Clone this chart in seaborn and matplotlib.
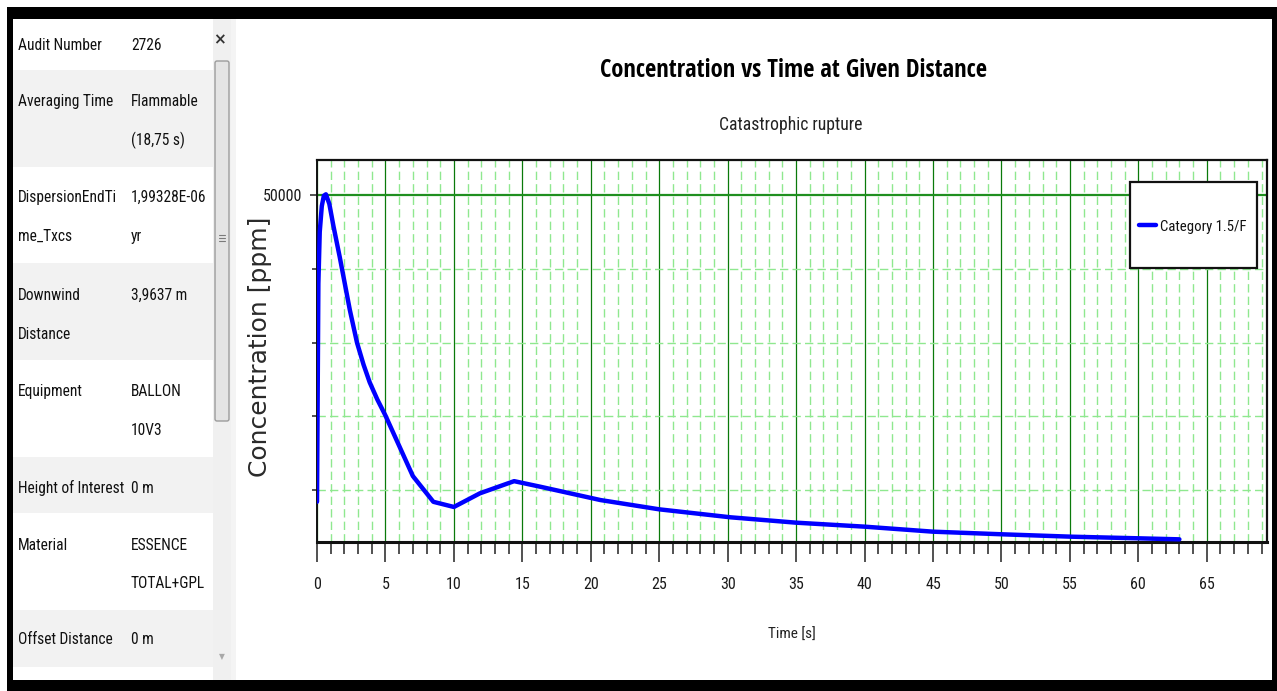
import matplotlib
matplotlib.use("Agg")
import matplotlib.pyplot as plt
from matplotlib import font_manager
from matplotlib.font_manager import FontProperties
from matplotlib.patches import Rectangle, FancyBboxPatch
from matplotlib.lines import Line2D
from matplotlib.ticker import FixedLocator, MultipleLocator, NullFormatter
import seaborn as sns
import pandas as pd

# ---- concentration time series (Category 1.5/F) ----
time_s = [0.0, 0.1, 0.2, 0.35, 0.5, 0.65, 0.9, 1.2, 1.66, 2.4, 2.92, 3.4,
          3.85, 4.4, 5.0, 6.0, 7.0, 8.5, 10.0, 11.9, 14.4, 16.3, 20.7, 25.0,
          30.2, 35.0, 40.0, 45.0, 50.1, 55.1, 60.0, 63.0]
conc_ppm = [8400, 38000, 45000, 48500, 49900, 50100, 48800, 45800, 41600,
            34400, 30000, 27000, 24600, 22300, 20100, 16000, 11900, 8400,
            7700, 9550, 11200, 10450, 8640, 7380, 6300, 5570, 5030, 4350,
            3990, 3670, 3450, 3310]
series_name = "Category 1.5/F"

x_major_ticks = list(range(0, 70, 5))
y_major_ticks = [50000]
y_minor_ticks = [10000, 20000, 30000, 40000]

title = "Concentration vs Time at Given Distance"
subtitle = "Catastrophic rupture"
x_label = "Time [s]"
y_label = "Concentration [ppm]"

# ---- property panel ----
param_names = ["Audit Number", "Averaging Time", "DispersionEndTi\nme_Txcs",
               "Downwind\nDistance", "Equipment", "Height of Interest",
               "Material", "Offset Distance"]
param_values = ["2726", "Flammable\n(18,75 s)", "1,99328E-06\nyr", "3,9637 m",
                "BALLON\n10V3", "0 m", "ESSENCE\nTOTAL+GPL", "0 m"]


def weight_num(w):
    if isinstance(w, (int, float)):
        return int(w)
    return font_manager.weight_dict.get(str(w).lower(), 400)


def condensed_font(target_w):
    """Narrow sans face closest to the wanted weight, else a plain sans."""
    prefs = ["Open Sans Condensed", "Roboto Condensed", "Liberation Sans Narrow",
             "DejaVu Sans", "Noto Sans"]
    best = None
    for f in font_manager.fontManager.ttflist:
        nm = f.name.lower()
        st = str(f.stretch).lower()
        narrow = ("condensed" in nm or "narrow" in nm or
                  "condensed" in st or "narrow" in st)
        if not narrow or f.style != "normal" or "mono" in nm or "serif" in nm:
            continue
        pr = prefs.index(f.name) if f.name in prefs else len(prefs)
        key = (abs(weight_num(f.weight) - target_w), pr)
        if best is None or key < best[0]:
            best = (key, f.fname)
    if best is not None and best[0][0] <= 150:
        return lambda size: FontProperties(fname=best[1], size=size)
    wt = "bold" if target_w >= 600 else "normal"
    return lambda size: FontProperties(family="Liberation Sans", weight=wt, size=size)


regular = condensed_font(400)
bold = condensed_font(700)

sns.set_style("white")
plt.rcParams["font.family"] = ["DejaVu Sans"]

W, H = 1277, 691
fig = plt.figure(figsize=(W / 100, H / 100), dpi=100, facecolor="white")
renderer = fig.canvas.get_renderer()


def fit(text, face, width_px, boost=1.0):
    probe = fig.text(0, 0, text, fontproperties=face(10))
    w = probe.get_window_extent(renderer).width
    probe.remove()
    return face(10 * width_px / w * boost)


fp_title = fit(title, bold, 387)
fp_sub = fit(subtitle, regular, 142)
fp_table = fit("Height of Interest", regular, 106)
fp_tick = fit("50000", regular, 34, 1.15)
fp_xlabel = fit(x_label, regular, 46, 1.04)
fp_legend = fit(series_name, regular, 86)

# full-figure canvas in pixel units for the window chrome and the panel
bg = fig.add_axes([0, 0, 1, 1], zorder=0)
bg.set_xlim(0, W)
bg.set_ylim(H, 0)
bg.axis("off")

# property table rows
row_edges = [19, 70, 167, 263, 360, 457, 513, 610, 667, 680]
row_text_y = [45, 101, 197, 295, 391, 488, 545, 640]
for i in range(len(row_edges) - 1):
    face = "white" if i % 2 == 0 else "#f2f2f2"
    bg.add_patch(Rectangle((13, row_edges[i]), 200, row_edges[i + 1] - row_edges[i],
                           facecolor=face, edgecolor="none", zorder=1))
for name, value, yc in zip(param_names, param_values, row_text_y):
    for k, line in enumerate(name.split("\n")):
        bg.text(18, yc + 39 * k, line, fontproperties=fp_table, color="#111111",
                ha="left", va="center", zorder=3)
    for k, line in enumerate(value.split("\n")):
        bg.text(131, yc + 39 * k, line, fontproperties=fp_table, color="#111111",
                ha="left", va="center", zorder=3)

# scrollbar
bg.add_patch(Rectangle((213, 19), 18, 661, facecolor="#f0f0f0",
                       edgecolor="none", zorder=1))
bg.add_patch(Rectangle((231, 19), 5, 661, facecolor="#f4f4f4",
                       edgecolor="none", zorder=1))
bg.add_patch(FancyBboxPatch((215, 61), 14, 360,
                            boxstyle="round,pad=0,rounding_size=2",
                            facecolor="#e4e4e4", edgecolor="#9c9c9c",
                            linewidth=1.0, zorder=2))
for gy in (235, 238, 241):
    bg.add_line(Line2D([219, 225], [gy, gy], color="#7a7a7a", lw=0.8, zorder=3))
bg.text(219.5, 40, "\u00d7", fontsize=11, fontweight="bold", color="#333333",
        ha="center", va="center", family="DejaVu Sans", zorder=3)
bg.text(222, 657, "\u25bc", fontsize=5.5, color="#a8a8a8",
        ha="center", va="center", family="DejaVu Sans", zorder=3)

# black window frame
for (x0, y0, w, h) in [(7, 7, 1270, 12), (7, 7, 6, 684),
                       (7, 680, 1270, 11), (1272, 7, 5, 684)]:
    bg.add_patch(Rectangle((x0, y0), w, h, facecolor="black",
                           edgecolor="none", zorder=5))

# chart titles
bg.text(793, 70, title, fontproperties=fp_title, color="black",
        ha="center", va="center", zorder=3)
bg.text(791, 125, subtitle, fontproperties=fp_sub, color="#222222",
        ha="center", va="center", zorder=3)

# ---- chart ----
ax_l, ax_r, ax_t, ax_b = 317, 1267, 160, 541.7
ax = fig.add_axes([ax_l / W, (H - ax_b) / H, (ax_r - ax_l) / W, (ax_b - ax_t) / H],
                  zorder=2)
ax.set_facecolor("white")

df = pd.DataFrame({"time": time_s, "conc": conc_ppm})
sns.lineplot(data=df, x="time", y="conc", ax=ax, color="#0000ff", lw=3.2,
             label=series_name, zorder=4, legend=False)

ax.set_xlim(0, 69.4)
ax.set_ylim(2990, 54750)

ax.xaxis.set_major_locator(FixedLocator(x_major_ticks))
ax.xaxis.set_minor_locator(MultipleLocator(1))
ax.xaxis.set_minor_formatter(NullFormatter())
ax.yaxis.set_major_locator(FixedLocator(y_major_ticks))
ax.yaxis.set_minor_locator(FixedLocator(y_minor_ticks))
ax.yaxis.set_minor_formatter(NullFormatter())

ax.grid(which="minor", color="#8fe88f", lw=1.0, ls=(0, (6, 3)), zorder=0)
ax.grid(which="major", axis="x", color="#0a7a0a", lw=0.9, ls="-", zorder=1)
ax.grid(which="major", axis="y", color="#1f8f1f", lw=1.6, ls="-", zorder=1)
ax.set_axisbelow(True)

ax.tick_params(axis="x", which="major", length=14.5, width=1.1, color="#222222",
               direction="out", pad=11, bottom=True)
ax.tick_params(axis="x", which="minor", length=8.5, width=1.1, color="#222222",
               direction="out", bottom=True)
ax.tick_params(axis="y", which="major", length=5, width=1.1, color="#222222",
               direction="out", pad=5.5, left=True)
ax.tick_params(axis="y", which="minor", length=3.6, width=1.1, color="#222222",
               direction="out", left=True)
for lbl in ax.get_xticklabels() + ax.get_yticklabels():
    lbl.set_fontproperties(fp_tick)
    lbl.set_color("#1a1a1a")

for side, lw in (("left", 1.4), ("top", 1.6), ("right", 1.6), ("bottom", 2.2)):
    ax.spines[side].set_visible(True)
    ax.spines[side].set_color("#111111")
    ax.spines[side].set_linewidth(lw)

ax.set_xlabel(x_label, fontproperties=fp_xlabel, color="#222222")
ax.xaxis.set_label_coords(0.5, (ax_b - 635) / (ax_b - ax_t))
ax.xaxis.label.set_va("center")
ax.set_ylabel(y_label, fontsize=18, color="#2a2a2a", family="DejaVu Sans")
ax.yaxis.set_label_coords((260 - ax_l) / (ax_r - ax_l), (ax_b - 347) / (ax_b - ax_t))
ax.yaxis.label.set_va("center")

# legend with its box
lx0, lx1, ly0, ly1 = 1130, 1257, 182, 268
ax.add_patch(Rectangle(((lx0 - ax_l) / (ax_r - ax_l), (ax_b - ly1) / (ax_b - ax_t)),
                       (lx1 - lx0) / (ax_r - ax_l), (ly1 - ly0) / (ax_b - ax_t),
                       transform=ax.transAxes, facecolor="white",
                       edgecolor="#111111", lw=1.6, zorder=6, clip_on=False))
handles = [Line2D([], [], color="#0000ff", lw=3.2)]
leg = ax.legend(handles, [series_name], loc="center left",
                bbox_to_anchor=((1139 - ax_l) / (ax_r - ax_l),
                                (ax_b - 226.5) / (ax_b - ax_t)),
                borderpad=0, borderaxespad=0, frameon=False,
                handlelength=1.15, handletextpad=0.3, prop=fp_legend)
leg.set_zorder(7)
for t in leg.get_texts():
    t.set_color("#111111")

fig.savefig("out.png", dpi=100, facecolor="white")
